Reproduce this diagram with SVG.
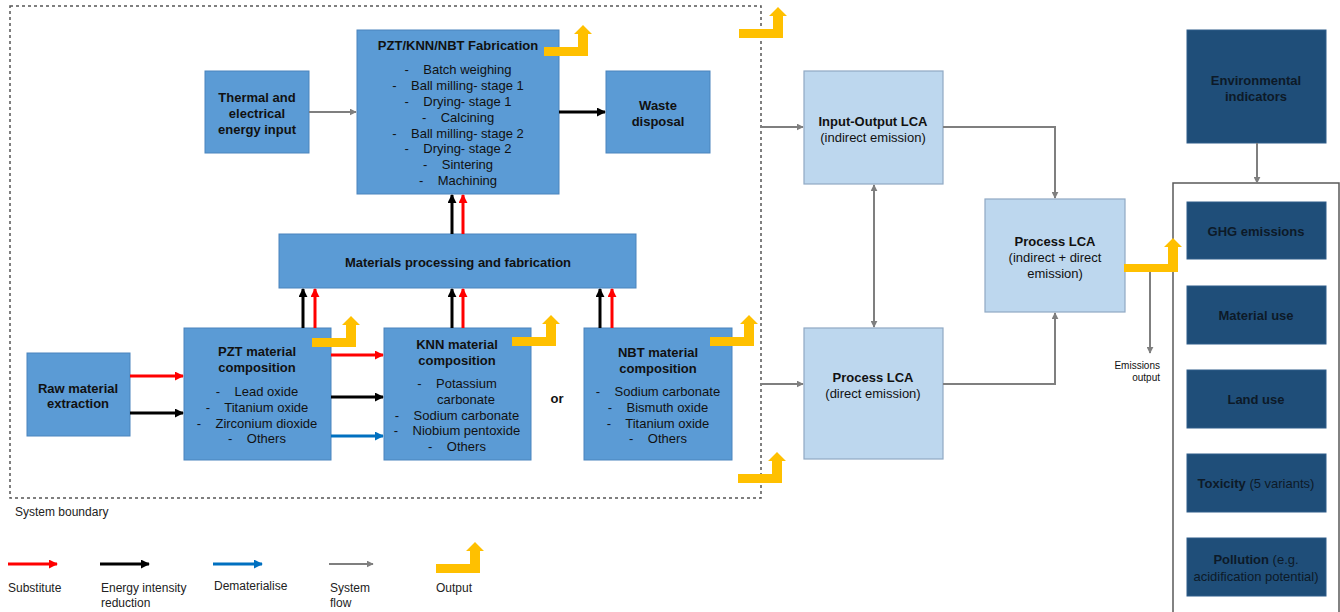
<svg xmlns="http://www.w3.org/2000/svg" width="1340" height="612" viewBox="0 0 1340 612">
<style>
text{font-family:"Liberation Sans",Arial,sans-serif;fill:#111;dominant-baseline:central}
.t{font-size:13px;font-weight:bold;text-anchor:middle}
.i{font-size:13px;text-anchor:middle}
.lg{font-size:12px;fill:#222}
.mb{fill:#5b9bd5;stroke:#4a84bd;stroke-width:1}
.lb{fill:#bdd7ee;stroke:#8fa8c4;stroke-width:1.2}
.db{fill:#1f4e79;stroke:#2e5d8a;stroke-width:1}
.dt{fill:#0d1a28}
.red{stroke:#ff0000;stroke-width:3;fill:none}
.blk{stroke:#000;stroke-width:3;fill:none}
.blu{stroke:#0070c0;stroke-width:3;fill:none}
.gry{stroke:#7f7f7f;stroke-width:2;fill:none}
.out{fill:#ffc000}
</style>
<defs>
<marker id="mr" viewBox="0 0 10 10" refX="9" refY="5" markerWidth="9" markerHeight="9" markerUnits="userSpaceOnUse" orient="auto"><path d="M0,0 L10,5 L0,10 z" fill="#ff0000"/></marker>
<marker id="mk" viewBox="0 0 10 10" refX="9" refY="5" markerWidth="9" markerHeight="9" markerUnits="userSpaceOnUse" orient="auto"><path d="M0,0 L10,5 L0,10 z" fill="#000"/></marker>
<marker id="mb" viewBox="0 0 10 10" refX="9" refY="5" markerWidth="9" markerHeight="9" markerUnits="userSpaceOnUse" orient="auto"><path d="M0,0 L10,5 L0,10 z" fill="#0070c0"/></marker>
<marker id="mg" viewBox="0 0 10 10" refX="9" refY="5" markerWidth="7" markerHeight="7" markerUnits="userSpaceOnUse" orient="auto-start-reverse"><path d="M0,0 L10,5 L0,10 z" fill="#7f7f7f"/></marker>
<path id="outp" class="out" d="M0,0 H44 V-22 H48 L39,-31 L30,-22 H34 V-9 H0 Z"/>
</defs>

<g id="boundary">
<rect x="10" y="6" width="751" height="492" fill="none" stroke="#555" stroke-width="1.5" stroke-dasharray="3,3"/>
<text class="lg" x="15" y="512">System boundary</text>
</g>

<g id="thermal">
<rect class="mb" x="205" y="71" width="104" height="82"/>
<text class="t" x="257" y="97">Thermal and</text>
<text class="t" x="257" y="113">electrical</text>
<text class="t" x="257" y="129">energy input</text>
</g>

<g id="fabrication">
<rect class="mb" x="357" y="30" width="202" height="164"/>
<text class="t" x="458" y="45">PZT/KNN/NBT Fabrication</text>
<text class="i" x="458" y="69">-&#160;&#160;&#160; Batch weighing</text>
<text class="i" x="458" y="85">-&#160;&#160;&#160; Ball milling- stage 1</text>
<text class="i" x="458" y="101">-&#160;&#160;&#160; Drying- stage 1</text>
<text class="i" x="458" y="117">-&#160;&#160;&#160; Calcining</text>
<text class="i" x="458" y="133">-&#160;&#160;&#160; Ball milling- stage 2</text>
<text class="i" x="458" y="148">-&#160;&#160;&#160; Drying- stage 2</text>
<text class="i" x="458" y="164">-&#160;&#160;&#160; Sintering</text>
<text class="i" x="458" y="180">-&#160;&#160;&#160; Machining</text>
</g>

<g id="waste">
<rect class="mb" x="606" y="71" width="104" height="82"/>
<text class="t" x="658" y="105">Waste</text>
<text class="t" x="658" y="121">disposal</text>
</g>

<g id="materials">
<rect class="mb" x="279" y="234" width="357" height="54"/>
<text class="t" x="458" y="262">Materials processing and fabrication</text>
</g>

<g id="raw">
<rect class="mb" x="27" y="353" width="103" height="83"/>
<text class="t" x="78" y="388">Raw material</text>
<text class="t" x="78" y="403">extraction</text>
</g>

<g id="pzt">
<rect class="mb" x="184" y="328" width="147" height="132"/>
<text class="t" x="257" y="351">PZT material</text>
<text class="t" x="257" y="367">composition</text>
<text class="i" x="257" y="391">-&#160;&#160;&#160; Lead oxide</text>
<text class="i" x="257" y="407">-&#160;&#160;&#160; Titanium oxide</text>
<text class="i" x="257" y="423">-&#160;&#160;&#160; Zirconium dioxide</text>
<text class="i" x="257" y="438">-&#160;&#160;&#160; Others</text>
</g>

<g id="knn">
<rect class="mb" x="384" y="328" width="147" height="132"/>
<text class="t" x="457" y="344">KNN material</text>
<text class="t" x="457" y="360">composition</text>
<text class="i" x="457" y="383">-&#160;&#160;&#160; Potassium</text>
<text class="i" x="466" y="399">carbonate</text>
<text class="i" x="457" y="415">-&#160;&#160;&#160; Sodium carbonate</text>
<text class="i" x="457" y="430">-&#160;&#160;&#160; Niobium pentoxide</text>
<text class="i" x="457" y="446">-&#160;&#160;&#160; Others</text>
</g>

<text class="t" x="557" y="398">or</text>

<g id="nbt">
<rect class="mb" x="584" y="328" width="148" height="132"/>
<text class="t" x="658" y="352">NBT material</text>
<text class="t" x="658" y="368">composition</text>
<text class="i" x="658" y="391">-&#160;&#160;&#160; Sodium carbonate</text>
<text class="i" x="658" y="407">-&#160;&#160;&#160; Bismuth oxide</text>
<text class="i" x="658" y="423">-&#160;&#160;&#160; Titanium oxide</text>
<text class="i" x="658" y="438">-&#160;&#160;&#160; Others</text>
</g>

<g id="io-lca">
<rect class="lb" x="804" y="71" width="139" height="113"/>
<text class="t" x="873" y="121">Input-Output LCA</text>
<text class="i" x="873" y="137">(indirect emission)</text>
</g>

<g id="process-direct">
<rect class="lb" x="804" y="328" width="139" height="131"/>
<text class="t" x="873" y="377">Process LCA</text>
<text class="i" x="873" y="393">(direct emission)</text>
</g>

<g id="process-hybrid">
<rect class="lb" x="985" y="199" width="140" height="113"/>
<text class="t" x="1055" y="241">Process LCA</text>
<text class="i" x="1055" y="257">(indirect + direct</text>
<text class="i" x="1055" y="273">emission)</text>
</g>

<g id="env-indicators">
<rect class="db" x="1187" y="30" width="139" height="113"/>
<text class="t dt" x="1256" y="80">Environmental</text>
<text class="t dt" x="1256" y="96">indicators</text>
</g>

<g id="indicator-container">
<rect x="1173" y="183" width="166" height="440" fill="none" stroke="#595959" stroke-width="1.5"/>
</g>

<g id="ghg">
<rect class="db" x="1187" y="202" width="139" height="57"/>
<text class="t dt" x="1256" y="231">GHG emissions</text>
</g>
<g id="material-use">
<rect class="db" x="1187" y="286" width="139" height="58"/>
<text class="t dt" x="1256" y="315">Material use</text>
</g>
<g id="land-use">
<rect class="db" x="1187" y="370" width="139" height="58"/>
<text class="t dt" x="1256" y="399">Land use</text>
</g>
<g id="toxicity">
<rect class="db" x="1187" y="454" width="139" height="58"/>
<text class="i dt" x="1256" y="483"><tspan font-weight="bold">Toxicity</tspan> (5 variants)</text>
</g>
<g id="pollution">
<rect class="db" x="1187" y="538" width="139" height="58"/>
<text class="i dt" x="1256" y="559"><tspan font-weight="bold">Pollution</tspan> (e.g.</text>
<text class="i dt" x="1256" y="576">acidification potential)</text>
</g>

<g id="connectors">
<path class="gry" d="M309,112 H356" marker-end="url(#mg)"/>
<path class="blk" d="M559,112 H605" marker-end="url(#mk)"/>
<path class="blk" d="M452,234 V195" marker-end="url(#mk)"/>
<path class="red" d="M463,234 V195" marker-end="url(#mr)"/>
<path class="blk" d="M303,328 V289" marker-end="url(#mk)"/>
<path class="red" d="M315,328 V289" marker-end="url(#mr)"/>
<path class="blk" d="M452,328 V289" marker-end="url(#mk)"/>
<path class="red" d="M463,328 V289" marker-end="url(#mr)"/>
<path class="blk" d="M600,328 V289" marker-end="url(#mk)"/>
<path class="red" d="M612,328 V289" marker-end="url(#mr)"/>
<path class="red" d="M130,376 H183" marker-end="url(#mr)"/>
<path class="blk" d="M130,413 H183" marker-end="url(#mk)"/>
<path class="red" d="M331,355 H383" marker-end="url(#mr)"/>
<path class="blk" d="M331,397 H383" marker-end="url(#mk)"/>
<path class="blu" d="M331,436 H383" marker-end="url(#mb)"/>
<path class="gry" d="M761,127 H803" marker-end="url(#mg)"/>
<path class="gry" d="M761,384 H803" marker-end="url(#mg)"/>
<path class="gry" d="M874,185 V327" marker-start="url(#mg)" marker-end="url(#mg)"/>
<path class="gry" d="M943,127 H1055 V198" marker-end="url(#mg)"/>
<path class="gry" d="M943,384 H1055 V313" marker-end="url(#mg)"/>
<path class="gry" d="M1150,272 V353" marker-end="url(#mg)"/>
<path class="gry" d="M1257,143 V183" marker-end="url(#mg)"/>
</g>

<g id="outputs">
<use href="#outp" x="544" y="56"/>
<use href="#outp" x="739" y="38"/>
<use href="#outp" x="312" y="347"/>
<use href="#outp" x="512" y="346"/>
<use href="#outp" x="710" y="346"/>
<use href="#outp" x="738" y="483"/>
<path class="out" d="M1124,272 H1178 V247 H1182 L1173,238 L1164,247 H1168 V264 H1124 Z"/>
</g>

<text x="1160" y="365" font-size="10" text-anchor="end" fill="#222">Emissions</text>
<text x="1160" y="377" font-size="10" text-anchor="end" fill="#222">output</text>

<g id="legend">
<path class="red" d="M8,564 H57" marker-end="url(#mr)"/>
<text class="lg" x="8" y="588">Substitute</text>
<path class="blk" d="M100,564 H149" marker-end="url(#mk)"/>
<text class="lg" x="101" y="588">Energy intensity</text>
<text class="lg" x="101" y="603">reduction</text>
<path class="blu" d="M213,564 H262" marker-end="url(#mb)"/>
<text class="lg" x="214" y="586">Dematerialise</text>
<path class="gry" d="M329,564 H373" marker-end="url(#mg)"/>
<text class="lg" x="330" y="588">System</text>
<text class="lg" x="330" y="603">flow</text>
<use href="#outp" x="436" y="573"/>
<text class="lg" x="436" y="588">Output</text>
</g>
</svg>
